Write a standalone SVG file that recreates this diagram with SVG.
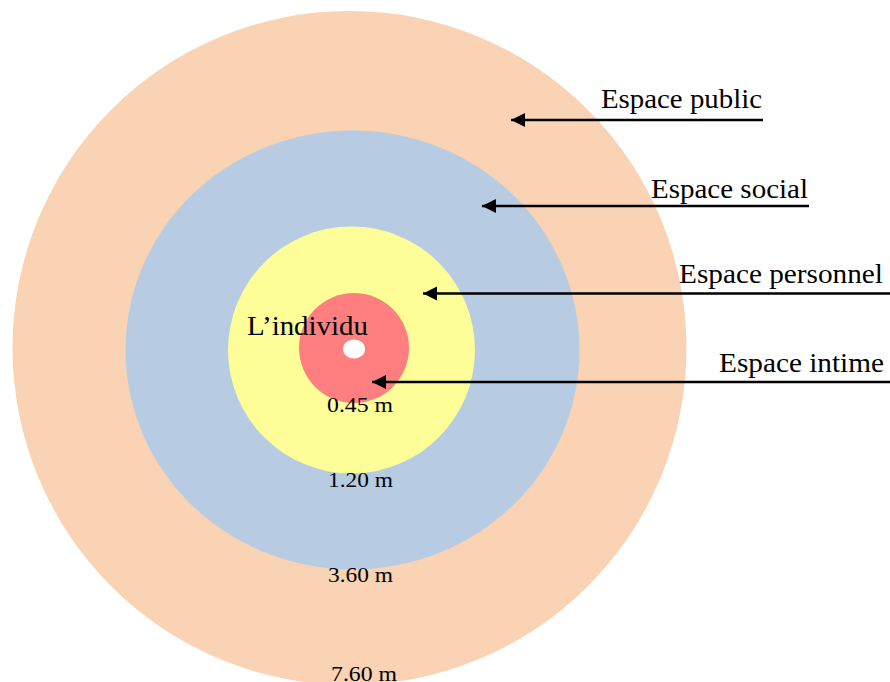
<svg xmlns="http://www.w3.org/2000/svg" width="890" height="682" viewBox="0 0 890 682">
<defs>
<style>
.lbl{font-family:"Liberation Serif","Times New Roman",serif;font-size:28px;fill:#000}
.num{font-family:"Liberation Serif","Times New Roman",serif;font-size:21px;fill:#000}
.arrow{stroke:#000;stroke-width:2.5;fill:none;marker-end:url(#ah)}
</style>
<marker id="ah" markerUnits="userSpaceOnUse" markerWidth="15" markerHeight="15" refX="14" refY="7" orient="auto" viewBox="0 0 15 15">
<path d="M0,0 L14,7 L0,14 z" fill="#000"/>
</marker>
</defs>
<rect width="890" height="682" fill="#fff"/>
<g id="public"><circle cx="349.5" cy="348" r="337" fill="#F9D3B3"/></g>
<g id="social"><ellipse cx="352.5" cy="350" rx="227" ry="219.5" fill="#B7CCE3"/></g>
<g id="personnel"><ellipse cx="351.5" cy="350" rx="123.5" ry="123.5" fill="#FEFE98"/></g>
<g id="intime"><circle cx="354" cy="348" r="55" fill="#FF7F80"/></g>
<g id="individu-point"><ellipse cx="354" cy="349" rx="11" ry="9.5" fill="#fff"/></g>
<g id="labels">
<text class="lbl" x="247" y="335" textLength="121" lengthAdjust="spacingAndGlyphs">L’individu</text>
<text class="lbl" x="601" y="107.5" textLength="161" lengthAdjust="spacingAndGlyphs">Espace public</text>
<text class="lbl" x="651" y="197.5" textLength="157" lengthAdjust="spacingAndGlyphs">Espace social</text>
<text class="lbl" x="679" y="283" textLength="204" lengthAdjust="spacingAndGlyphs">Espace personnel</text>
<text class="lbl" x="719" y="372" textLength="165" lengthAdjust="spacingAndGlyphs">Espace intime</text>
<text class="num" x="327" y="412" textLength="66" lengthAdjust="spacingAndGlyphs">0.45 m</text>
<text class="num" x="328" y="487" textLength="65" lengthAdjust="spacingAndGlyphs">1.20 m</text>
<text class="num" x="328" y="582" textLength="65" lengthAdjust="spacingAndGlyphs">3.60 m</text>
<text class="num" x="331" y="681" textLength="66" lengthAdjust="spacingAndGlyphs">7.60 m</text>
</g>
<g id="connectors">
<line class="arrow" x1="763" y1="120" x2="511" y2="120"/>
<line class="arrow" x1="809" y1="206" x2="482" y2="206"/>
<line class="arrow" x1="890" y1="293.5" x2="423" y2="293.5"/>
<line class="arrow" x1="890" y1="382" x2="372" y2="382"/>
</g>
</svg>
